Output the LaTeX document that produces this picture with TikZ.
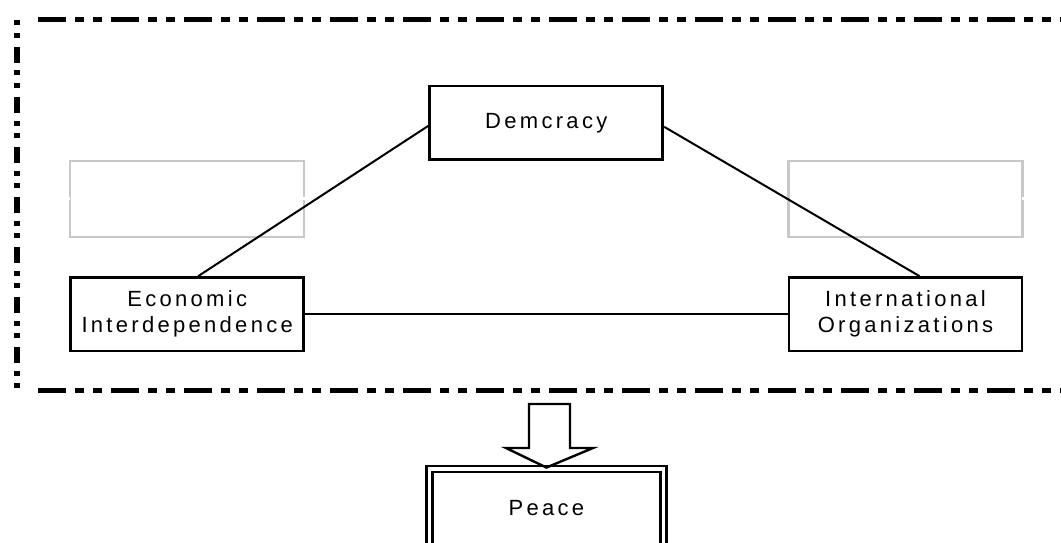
\documentclass[tikz,border=0pt]{standalone}
\usepackage{fontspec}
\newfontfamily\boxfont{Liberation Sans}[LetterSpace=15]
\definecolor{ghostgray}{HTML}{C8C8C8}
\begin{document}
\begin{tikzpicture}[x=1pt,y=-1pt,
  box/.style={draw, line width=2.8pt, minimum width=233pt, minimum height=73.5pt,
    inner sep=0pt, align=center, font={\boxfont\fontsize{22pt}{26pt}\selectfont}},
  ghost/.style={draw=ghostgray, line width=2.2pt, minimum width=234pt, minimum height=76pt, inner sep=0pt},
  link/.style={line width=2pt},
  hborder/.style={line width=4.4pt, dash pattern=on 28pt off 9pt on 9pt off 9pt on 9pt off 9pt},
  vborder/.style={line width=5.5pt, dash pattern=on 16pt off 7.5pt on 5pt off 7.5pt on 5pt off 9pt, dash phase=22.5pt},
  peacebox/.style={box, double, double distance=3.6pt, line width=2.5pt, minimum width=233.8pt, minimum height=78pt},
  blockarrow/.style={line width=2.4pt, line join=miter},
  gapline/.style={white, line width=3.5pt}
]
\useasboundingbox (0,0) rectangle (1061,543);
% dashed frame
\coordinate (tl) at (16.8,19.5);
\coordinate (bl) at (16.8,390.5);
\coordinate (ts) at (38,19.5);
\coordinate (te) at (1075,19.5);
\coordinate (bs) at (38,390.5);
\coordinate (be) at (1075,390.5);
\draw[vborder] (tl) -- (bl);
\draw[hborder] (ts) -- (te);
\draw[hborder] (bs) -- (be);
% grey empty boxes
\node[ghost] (gl) at (186.7,199.1) {};
\node[ghost] (gr) at (905.5,199.3) {};
\draw[gapline] ([yshift=-1pt]gl.west) -- ([yshift=2pt]gl.west);
\draw[gapline] ([yshift=-1pt]gl.east) -- ([yshift=2pt]gl.east);
\draw[gapline] ([yshift=-1pt]gr.east) -- ([yshift=2pt]gr.east);
% main boxes
\node[box] (dem) at (546.3,122.8) {Demcracy};
\node[box] (econ) at (187.2,314.3) {Economic\\Interdependence};
\node[box] (intl) at (905.5,314.3) {International\\Organizations};
% connectors
\draw[link] ([yshift=-3pt]dem.west) -- ([xshift=11pt]econ.north);
\draw[link] ([yshift=-4pt]dem.east) -- ([xshift=14pt]intl.north);
\draw[link] (econ.east) -- (intl.west);
% peace
\node[peacebox] (peace) at (546.4,507.8) {Peace};
% block arrow
\draw[blockarrow] (529,404) -- (570,404) -- (570,448) -- (593,448) -- (peace.north) -- (506,448) -- (529,448) -- cycle;
\end{tikzpicture}
\end{document}
